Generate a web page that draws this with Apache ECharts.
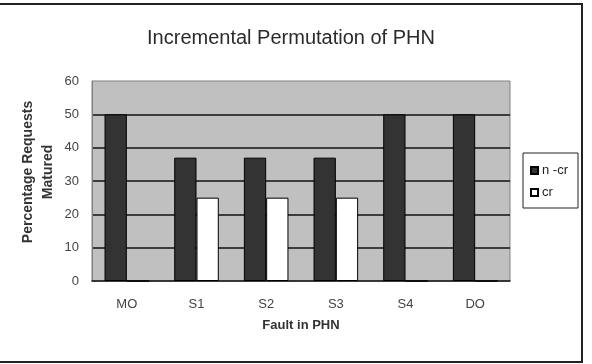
<!DOCTYPE html>
<html>
<head>
<meta charset="utf-8">
<script src="https://cdn.jsdelivr.net/npm/echarts@6/dist/echarts.min.js"></script>
<style>
html,body{margin:0;padding:0;background:#fff;}
#chart{width:592px;height:364px;}
</style>
</head>
<body>
<div id="chart"></div>
<script>
var categories = ['MO', 'S1', 'S2', 'S3', 'S4', 'DO'];
var ncrValues = [50, 37, 37, 37, 50, 50];
var crValues = [0, 25, 25, 25, 0, 0];
var yTicks = [0, 10, 20, 30, 40, 50, 60];

var chart = echarts.init(document.getElementById('chart'), null, {renderer: 'canvas'});
chart.setOption({
  animation: false,
  backgroundColor: '#ffffff',
  title: {
    text: 'Incremental Permutation of PHN',
    left: 286,
    textAlign: 'center',
    top: 23,
    textStyle: {fontFamily: 'Liberation Sans', fontSize: 20, fontWeight: 'normal', color: '#2a2a2a'}
  },
  graphic: [{
    type: 'rect',
    shape: {x: -5, y: 4, width: 587, height: 358},
    style: {fill: 'none', stroke: '#222', lineWidth: 2},
    z: 100
  }],
  legend: {
    orient: 'vertical',
    left: 523,
    top: 153,
    padding: [11, 10, 9, 7],
    itemGap: 9,
    itemWidth: 7,
    itemHeight: 7,
    icon: 'rect',
    borderColor: '#222',
    borderWidth: 1,
    textStyle: {fontFamily: 'Liberation Sans', fontSize: 13, color: '#222', padding: [0, 0, 0, -1]},
    data: ['n -cr', 'cr']
  },
  grid: {
    left: 92, right: 82, top: 81, bottom: 83,
    show: true,
    backgroundColor: '#c0c0c0',
    borderColor: '#808080',
    borderWidth: 1
  },
  xAxis: {
    type: 'category',
    data: categories,
    name: 'Fault in PHN',
    nameLocation: 'middle',
    nameGap: 38,
    nameMoveOverlap: false,
    nameTextStyle: {fontFamily: 'Liberation Sans', fontSize: 13, fontWeight: 'bold', color: '#333'},
    axisLine: {lineStyle: {color: '#111', width: 1.5}},
    axisTick: {show: false},
    axisLabel: {margin: 17, fontFamily: 'Liberation Sans', fontSize: 13, color: '#444'}
  },
  yAxis: {
    type: 'value',
    min: yTicks[0],
    max: yTicks[yTicks.length - 1],
    interval: 10,
    name: 'Percentage Requests\nMatured',
    nameLocation: 'middle',
    nameRotate: 90,
    nameGap: 34,
    nameMoveOverlap: false,
    nameTextStyle: {fontFamily: 'Liberation Sans', fontSize: 14, fontWeight: 'bold', color: '#333', lineHeight: 20, padding: [0, 0, 0, 18]},
    axisLine: {show: true, lineStyle: {color: '#808080', width: 1}},
    axisTick: {show: false},
    axisLabel: {margin: 13, fontFamily: 'Liberation Sans', fontSize: 13, color: '#444'},
    splitLine: {show: true, showMaxLine: false, showMinLine: false, lineStyle: {color: '#111', width: 1.5}}
  },
  series: [{
    name: 'n -cr',
    type: 'bar',
    data: ncrValues,
    barGap: '0%',
    barCategoryGap: '36%',
    itemStyle: {color: '#333333', borderColor: '#000', borderWidth: 1}
  }, {
    name: 'cr',
    type: 'bar',
    data: crValues,
    itemStyle: {color: '#ffffff', borderColor: '#000', borderWidth: 1}
  }]
});
</script>
</body>
</html>
